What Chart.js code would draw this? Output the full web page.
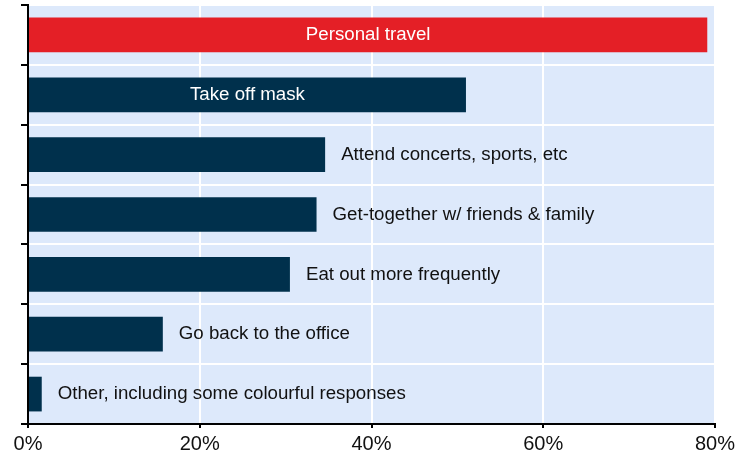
<!DOCTYPE html>
<html>
<head>
<meta charset="utf-8">
<script src="https://cdn.jsdelivr.net/npm/chart.js@4"></script>
<style>
  html, body { margin: 0; padding: 0; background: #fff; }
  #wrap { width: 753px; height: 460px; }
</style>
</head>
<body>
<div id="wrap"><canvas id="myChart"></canvas></div>
<script>
const labels = [
  'Personal travel',
  'Take off mask',
  'Attend concerts, sports, etc',
  'Get-together w/ friends & family',
  'Eat out more frequently',
  'Go back to the office',
  'Other, including some colourful responses'
];
const values = [79.1, 51.0, 34.6, 33.6, 30.5, 15.7, 1.6];
const barColors = ['#e41f26', '#00304c', '#00304c', '#00304c', '#00304c', '#00304c', '#00304c'];
const insideLabel = [true, true, false, false, false, false, false];
const xTicks = [0, 20, 40, 60, 80];

const plotBg = {
  id: 'plotBg',
  beforeDraw(chart) {
    const { ctx, chartArea: a } = chart;
    ctx.save();
    ctx.fillStyle = '#dde9fb';
    ctx.fillRect(a.left, a.top, a.right - a.left, a.bottom - a.top);
    ctx.restore();
  }
};

const barText = {
  id: 'barText',
  afterDatasetsDraw(chart) {
    const { ctx } = chart;
    const meta = chart.getDatasetMeta(0);
    ctx.save();
    ctx.font = '18.7px "Liberation Sans", Arial, sans-serif';
    ctx.textBaseline = 'middle';
    meta.data.forEach((bar, i) => {
      if (insideLabel[i]) {
        ctx.fillStyle = '#ffffff';
        ctx.textAlign = 'center';
        ctx.fillText(labels[i], (bar.base + bar.x) / 2, bar.y);
      } else {
        ctx.fillStyle = '#111111';
        ctx.textAlign = 'left';
        ctx.fillText(labels[i], bar.x + 16, bar.y);
      }
    });
    ctx.restore();
  }
};

new Chart(document.getElementById('myChart'), {
  type: 'bar',
  data: {
    labels: labels,
    datasets: [{
      data: values,
      backgroundColor: barColors,
      barPercentage: 0.58,
      categoryPercentage: 1.0
    }]
  },
  options: {
    indexAxis: 'y',
    responsive: true,
    maintainAspectRatio: false,
    animation: false,
    layout: { padding: { top: 5, right: 38, left: 21, bottom: 0 } },
    plugins: { legend: { display: false }, tooltip: { enabled: false } },
    scales: {
      x: {
        min: 0,
        max: 80,
        afterBuildTicks(axis) { axis.ticks = xTicks.map(v => ({ value: v })); },
        ticks: {
          callback: v => v + '%',
          color: '#111',
          font: { family: '"Liberation Sans", Arial, sans-serif', size: 20 },
          padding: 4,
          maxRotation: 0
        },
        grid: { color: '#ffffff', lineWidth: 2, tickColor: '#000', tickLength: 4 },
        border: { color: '#000', width: 2 }
      },
      y: {
        ticks: { display: false },
        grid: { offset: true, color: '#ffffff', lineWidth: 2, tickColor: '#000', tickLength: 7 },
        border: { color: '#000', width: 2 }
      }
    }
  },
  plugins: [plotBg, barText]
});
</script>
</body>
</html>
